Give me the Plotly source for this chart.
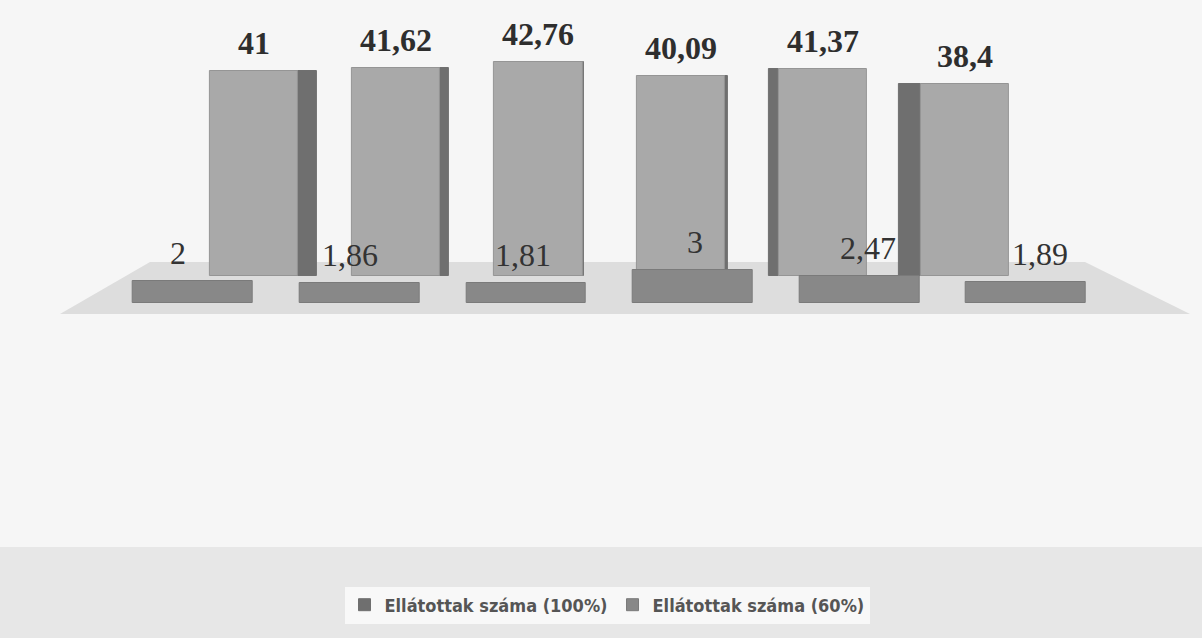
import plotly.graph_objects as go

# ---- data ----
categories = ["1", "2", "3", "4", "5", "6"]
series_100 = [41, 41.62, 42.76, 40.09, 41.37, 38.4]
series_60 = [2, 1.86, 1.81, 3, 2.47, 1.89]
labels_100 = ["41", "41,62", "42,76", "40,09", "41,37", "38,4"]
labels_60 = ["2", "1,86", "1,81", "3", "2,47", "1,89"]
series_names = ["Ellátottak száma (100%)", "Ellátottak száma (60%)"]

# ---- style / geometry ----
W, H = 1202, 638
idx = list(range(len(categories)))
bar_w = 0.62
side_px = [19, 9, 1, 3, -10, -22]   # visible side face (right +, left -)
unit_px = 142.2
side_w = [abs(s) / unit_px for s in side_px]
side_off = [bar_w / 2 if s > 0 else -bar_w / 2 - abs(s) / unit_px for s in side_px]

fig = go.Figure()

# back row (100%) – side faces (carry the legend swatch), then front faces
fig.add_trace(go.Bar(
    x=idx, y=series_100, xaxis="x", yaxis="y",
    width=side_w, offset=side_off,
    name=series_names[0], legendgroup="a",
    marker=dict(color="#6f6f6f", line=dict(color="#6f6f6f", width=1)),
    hoverinfo="skip"))
fig.add_trace(go.Bar(
    x=idx, y=series_100, xaxis="x", yaxis="y", width=bar_w,
    name=series_names[0], legendgroup="a", showlegend=False,
    marker=dict(color="#a9a9a9", line=dict(color="#959595", width=1))))

# front row (60%)
fig.add_trace(go.Bar(
    x=idx, y=series_60, xaxis="x2", yaxis="y2", width=0.72,
    name=series_names[1],
    marker=dict(color="#888888", line=dict(color="#7a7a7a", width=1))))

annotations = []
for i, (v, t) in enumerate(zip(series_100, labels_100)):
    annotations.append(dict(x=i, y=v, xref="x", yref="y", text=t, showarrow=False,
                            yanchor="middle", yshift=28,
                            font=dict(family="Liberation Serif", size=32, color="#2e2e2e", weight="bold")))
for i, (v, t) in enumerate(zip(series_60, labels_60)):
    annotations.append(dict(x=i, y=v, xref="x3", yref="y2", text=t, showarrow=False,
                            yanchor="middle", yshift=28,
                            font=dict(family="Liberation Serif", size=32, color="#333333")))

def px(x):
    return x / W

def py(y):
    return 1 - y / H

floor_path = (f"M {px(60)} {py(314)} L {px(1190)} {py(314)} "
              f"L {px(1085)} {py(262)} L {px(150)} {py(262)} Z")

shapes = [
    dict(type="rect", xref="paper", yref="paper", x0=0, x1=1, y0=0, y1=py(547),
         fillcolor="#e7e7e7", line=dict(width=0), layer="below"),
    dict(type="path", xref="paper", yref="paper", path=floor_path,
         fillcolor="#dddddd", line=dict(width=0), layer="below"),
]

hidden = dict(visible=False, fixedrange=True)
fig.update_layout(
    width=W, height=H,
    margin=dict(l=0, r=0, t=0, b=0),
    paper_bgcolor="#f6f6f6", plot_bgcolor="rgba(0,0,0,0)",
    barmode="overlay", bargap=0,
    xaxis=dict(hidden, domain=[px(254 - unit_px / 2), px(254 + 5.5 * unit_px)], range=[-0.5, 5.5], anchor="y"),
    yaxis=dict(hidden, domain=[py(276), 1], range=[0, 276 / 5], anchor="x"),
    xaxis2=dict(hidden, domain=[px(193 - 83.3), px(1026 + 83.3)], range=[-0.5, 5.5], anchor="y2"),
    yaxis2=dict(hidden, domain=[py(303), 1], range=[0, 303 / 11], anchor="x2"),
    xaxis3=dict(hidden, domain=[px(178 - 86.2), px(1040 + 86.2)], range=[-0.5, 5.5], anchor="y2"),
    annotations=annotations,
    shapes=shapes,
    legend=dict(orientation="h", x=px(607), xanchor="center", y=py(605), yanchor="middle",
                bgcolor="#f8f8f8", traceorder="normal",
                font=dict(family="DejaVu Sans Condensed, Liberation Sans Narrow, Roboto, sans-serif",
                          size=18, color="#555555", weight="bold"),
                itemwidth=30),
    showlegend=True,
)

fig.write_html("out.html", post_script="document.body.style.margin='0';",
               config={"displayModeBar": False})
